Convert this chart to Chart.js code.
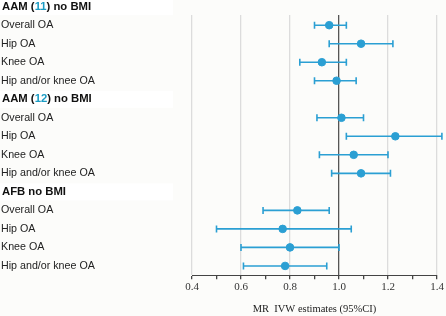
<!DOCTYPE html>
<html><head><meta charset="utf-8">
<script src="https://cdn.jsdelivr.net/npm/chart.js@4/dist/chart.umd.min.js"></script>
<style>html,body{margin:0;padding:0;background:#fcfcfa;}#wrap{width:446px;height:316px;position:relative;}</style>
</head><body><div id="wrap"><canvas id="c" width="446" height="316"></canvas></div>
<script>
const rowLabels = ["AAM (11) no BMI","Overall OA","Hip OA","Knee OA","Hip and/or knee OA",
  "AAM (12) no BMI","Overall OA","Hip OA","Knee OA","Hip and/or knee OA",
  "AFB no BMI","Overall OA","Hip OA","Knee OA","Hip and/or knee OA"];
const headerRows = [0,5,10];
const estimates = [null,0.96,1.09,0.93,0.99, null,1.01,1.23,1.06,1.09, null,0.83,0.77,0.80,0.78];
const lowerCI   = [null,0.90,0.96,0.84,0.90, null,0.91,1.03,0.92,0.97, null,0.69,0.50,0.60,0.61];
const upperCI   = [null,1.03,1.22,1.03,1.07, null,1.10,1.42,1.20,1.21, null,0.96,1.05,1.00,0.95];
const xTitle = "MR  IVW estimates (95%CI)";

const blue = '#2b9fd3';
const pts = [];
estimates.forEach((v,i)=>{ if(v!==null) pts.push({x:v,y:i}); });

const labelPlugin = {
  id:'labels',
  beforeDatasetsDraw(chart){
    const ctx = chart.ctx, xs = chart.scales.x, ys = chart.scales.y;
    ctx.save();
    ctx.strokeStyle = blue; ctx.lineWidth = 1.6;
    estimates.forEach((v,i)=>{
      if(v===null) return;
      const y = ys.getPixelForValue(i);
      const x1 = xs.getPixelForValue(lowerCI[i]), x2 = xs.getPixelForValue(upperCI[i]);
      ctx.beginPath();
      ctx.moveTo(x1,y); ctx.lineTo(x2,y);
      ctx.moveTo(x1,y-3.5); ctx.lineTo(x1,y+3.5);
      ctx.moveTo(x2,y-3.5); ctx.lineTo(x2,y+3.5);
      ctx.stroke();
    });
    ctx.restore();
  },
  afterDraw(chart){
    const ctx = chart.ctx, ys = chart.scales.y;
    ctx.save();
    ctx.textBaseline = 'middle';
    rowLabels.forEach((t,i)=>{
      const y = ys.getPixelForValue(i);
      if(headerRows.includes(i)){
        ctx.fillStyle = '#ffffff';
        ctx.fillRect(0, y-8.5, 173, 17);
        ctx.font = 'bold 11.3px "Liberation Sans", Arial, sans-serif';
        const m = t.match(/^(.*\()(\d+)(\).*)$/);
        let x = 2;
        if(m){
          ctx.fillStyle = '#111'; ctx.fillText(m[1], x, y); x += ctx.measureText(m[1]).width;
          ctx.fillStyle = '#1b9cc4'; ctx.fillText(m[2], x, y); x += ctx.measureText(m[2]).width;
          ctx.fillStyle = '#111'; ctx.fillText(m[3], x, y);
        } else {
          ctx.fillStyle = '#111'; ctx.fillText(t, x, y);
        }
      } else {
        ctx.font = '10.7px "Liberation Sans", Arial, sans-serif';
        ctx.fillStyle = '#222';
        ctx.fillText(t, 1, y);
      }
    });
    ctx.restore();
  }
};

new Chart(document.getElementById('c'), {
  type:'scatter',
  data:{ datasets:[{ data: pts, backgroundColor: blue, borderColor: blue, pointRadius: 3.8, pointHoverRadius: 3.8 }]},
  options:{
    responsive:false, animation:false,
    layout:{ padding:{ left:192, right:9, top:15, bottom:0 } },
    plugins:{ legend:{display:false}, tooltip:{enabled:false} },
    scales:{
      x:{ type:'linear', min:0.4, max:1.4,
        ticks:{ stepSize:0.1, font:{family:'"Liberation Serif", serif', size:11}, color:'#333', padding:1,
          callback:(v)=>{ const r=Math.round(v*10); return r%2===0 ? (r/10).toFixed(1) : ''; }, maxRotation:0, autoSkip:false },
        grid:{ color:(c)=>{ const r=Math.round(c.tick.value*10); if(r===10) return '#555'; return r%2===0 ? '#dcdcdc' : 'rgba(0,0,0,0)'; },
               lineWidth:1.3, tickColor:'#444', tickLength:4, drawOnChartArea:true },
        border:{ color:'#444', width:1 },
        title:{ display:true, text:xTitle, font:{family:'"Liberation Serif", serif', size:10.5}, color:'#222', padding:{top:9,bottom:0} }
      },
      y:{ type:'linear', reverse:true, min:0.45, max:14.5, display:false }
    }
  },
  plugins:[labelPlugin]
});
</script></body></html>
